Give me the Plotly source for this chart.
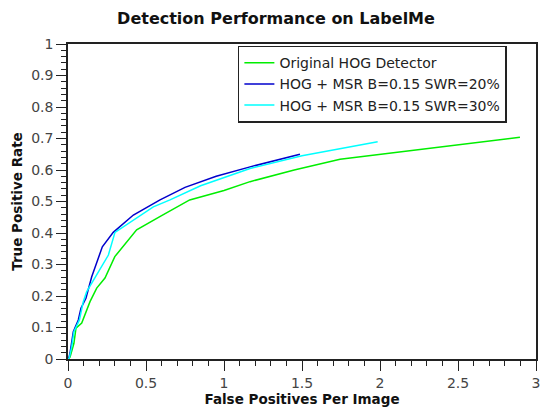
import plotly.graph_objects as go

# Original HOG Detector
hog_fppi = [0.0, 0.013, 0.038, 0.051, 0.088, 0.141, 0.184, 0.237, 0.30, 0.44, 0.60, 0.78, 1.0, 1.167, 1.45, 1.744, 2.897]
hog_tpr = [0.0, 0.006, 0.05, 0.098, 0.114, 0.182, 0.225, 0.257, 0.325, 0.41, 0.455, 0.505, 0.535, 0.563, 0.60, 0.634, 0.704]

# HOG + MSR B=0.15 SWR=20%
msr20_fppi = [0.0, 0.005, 0.013, 0.034, 0.066, 0.083, 0.115, 0.152, 0.22, 0.29, 0.419, 0.59, 0.75, 0.95, 1.167, 1.487]
msr20_tpr = [0.0, 0.003, 0.019, 0.087, 0.124, 0.161, 0.193, 0.261, 0.356, 0.402, 0.457, 0.505, 0.545, 0.58, 0.61, 0.65]

# HOG + MSR B=0.15 SWR=30%
msr30_fppi = [0.0, 0.008, 0.024, 0.038, 0.073, 0.098, 0.12, 0.259, 0.301, 0.547, 0.654, 0.85, 1.167, 1.5, 1.985]
msr30_tpr = [0.0, 0.003, 0.039, 0.087, 0.124, 0.182, 0.214, 0.33, 0.402, 0.483, 0.505, 0.55, 0.605, 0.645, 0.69]

names = ["Original HOG Detector", "HOG + MSR B=0.15 SWR=20%", "HOG + MSR B=0.15 SWR=30%"]
colors = ["#00ee00", "#0000cc", "#00ffff"]

fig = go.Figure()
for xs, ys, n, c in [(hog_fppi, hog_tpr, names[0], colors[0]),
                     (msr20_fppi, msr20_tpr, names[1], colors[1]),
                     (msr30_fppi, msr30_tpr, names[2], colors[2])]:
    fig.add_trace(go.Scatter(x=xs, y=ys, mode="lines", name=n,
                             line=dict(color=c, width=1.5)))

axis_common = dict(showline=True, linecolor="#222", linewidth=1.5, mirror=True,
                   showgrid=False, zeroline=False, ticks="outside", ticklen=10,
                   tickcolor="#222", automargin=False,
                   tickfont=dict(family="DejaVu Sans", size=14, color="#444"))

fig.update_xaxes(range=[0, 3], dtick=0.5, tick0=0,
                 minor=dict(ticks="outside", ticklen=5, dtick=0.1, tickcolor="#222", showgrid=False),
                 title=dict(text="<b>False Positives Per Image</b>", font=dict(family="DejaVu Sans", size=13.5, color="#111"), standoff=0),
                 **axis_common)
fig.update_yaxes(range=[0, 1], dtick=0.1, tick0=0,
                 minor=dict(ticks="outside", ticklen=5, dtick=0.02, tickcolor="#222", showgrid=False),
                 title=dict(text="<b>True Positive Rate</b>", font=dict(family="DejaVu Sans", size=13.5, color="#111"), standoff=5),
                 **axis_common)

fig.update_layout(
    width=542, height=410,
    margin=dict(l=68, r=6, t=44, b=51),
    paper_bgcolor="white", plot_bgcolor="white",
    title=dict(text="<b>Detection Performance on LabelMe</b>", x=276 / 542,
               xanchor="center", y=1 - 18 / 410, yanchor="middle", yref="container",
               font=dict(family="DejaVu Sans", size=16, color="#111")),
    legend=dict(x=0.363, y=0.995, xanchor="left", yanchor="top",
                bordercolor="#222", borderwidth=1.5, bgcolor="white",
                font=dict(family="DejaVu Sans", size=14, color="#222"),
                tracegroupgap=0, itemwidth=30),
    showlegend=True,
)

fig.write_html("out.html", config={"displayModeBar": False},
               post_script="document.body.style.margin='0';document.body.style.overflow='hidden';")
